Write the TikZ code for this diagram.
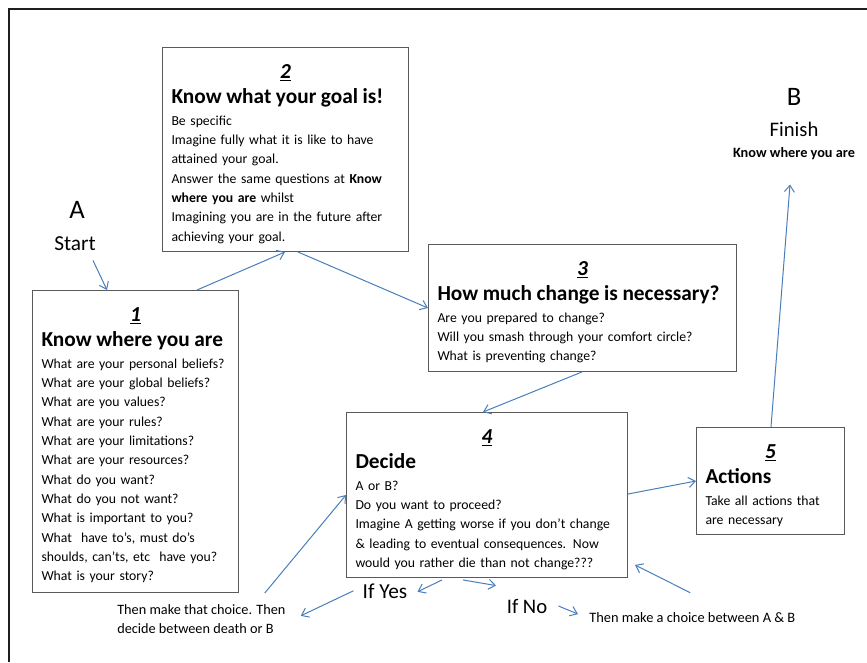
\documentclass[tikz,border=0pt]{standalone}
\usepackage{fontspec}
\setmainfont{Carlito}
\usepackage{tikz}
\usepackage{xcolor}
\usetikzlibrary{arrows.meta}

\definecolor{arrowblue}{RGB}{74,126,187}
\definecolor{boxgray}{RGB}{90,90,90}

\newcommand{\bodyfont}{\fontsize{10.3}{14.5}\selectfont}
\newcommand{\titlefont}{\fontsize{16}{18.75}\selectfont\bfseries}
\newcommand{\numfont}{\fontsize{16}{18.75}\selectfont\bfseries\itshape}
\hyphenpenalty=10000

\begin{document}
\begin{tikzpicture}[x=0.75pt,y=0.75pt,yscale=-1,xscale=1,
    box/.style={draw=boxgray, line width=0.75pt, anchor=north west, align=left,
      inner xsep=6.75pt, inner ysep=0pt, text height=23pt, font=\bodyfont},
    arr/.style={draw=arrowblue, line width=0.75pt, -{Straight Barb[length=5pt,width=7.5pt]}}]
    \useasboundingbox (0,0) rectangle (867,662);

    %Straight Lines (frame)
    \draw [line width=1.6pt, color={rgb,255:red,30;green,30;blue,30}] (9,662) -- (9,9) -- (867,9);

    %Shape: Rectangle 1
    \node [box, text width=141pt, text depth=203.5pt] (box1) at (32,290) {%
      {\centering\numfont\underline{1}\par}
      {\titlefont Know where you are\par}\vspace{2pt}
      What are your personal beliefs?\\
      What are your global beliefs?\\
      What are you values?\\
      What are your rules?\\
      What are your limitations?\\
      What are your resources?\\
      What do you want?\\
      What do you not want?\\
      What is important to you?\\
      What \ have to’s, must do’s\\
      shoulds, can’ts, etc \ have you?\\
      What is your story?};
    %Shape: Rectangle 2
    \node [box, text width=171pt, text depth=130pt] (box2) at (162,47) {%
      {\centering\numfont\underline{2}\par}
      {\titlefont Know what your goal is!\par}\vspace{2pt}
      Be specific\\
      Imagine fully what it is like to have\\
      attained your goal.\\
      Answer the same questions at \textbf{Know}\\
      \textbf{where you are} whilst\\
      Imagining you are in the future after\\
      achieving your goal.};
    %Shape: Rectangle 3
    \node [box, text width=217.5pt, text depth=72.2pt] (box3) at (428,244) {%
      {\centering\numfont\underline{3}\par}
      {\titlefont How much change is necessary?\par}\vspace{2pt}
      Are you prepared to change?\\
      Will you smash through your comfort circle?\\
      What is preventing change?};
    %Shape: Rectangle 4
    \node [box, text width=197.25pt, text depth=100.7pt] (box4) at (346,412) {%
      {\centering\numfont\underline{4}\par}
      {\titlefont Decide\par}\vspace{2pt}
      A or B?\\
      Do you want to proceed?\\
      Imagine A getting worse if you don’t change\\
      \& leading to eventual consequences. Now\\
      would you rather die than not change???};
    %Shape: Rectangle 5
    \node [box, text width=97.5pt, text depth=57.2pt] (box5) at (696,427) {%
      {\centering\numfont\underline{5}\par}
      {\titlefont Actions\par}\vspace{2pt}
      Take all actions that\\
      are necessary};

    % Text Node
    \node [anchor=base, inner sep=0.75pt, font=\fontsize{20}{24}\selectfont] (lblA) at (77,218) {A};
    % Text Node
    \node [anchor=base, inner sep=0.75pt, font=\fontsize{16}{19}\selectfont] (start) at (75,250) {Start};
    % Text Node
    \node [anchor=base, inner sep=0.75pt, font=\fontsize{20}{24}\selectfont] (lblB) at (794,105) {B};
    % Text Node
    \node [anchor=base, inner sep=0.75pt, font=\fontsize{15.5}{19}\selectfont] (finish) at (794,136) {Finish};
    % Text Node
    \node [anchor=base, inner sep=0.75pt, font=\fontsize{10.7}{12}\selectfont\bfseries] (finishsub) at (794,157) {Know where you are};
    % Text Node
    \node [anchor=base, inner sep=0.75pt, font=\fontsize{16}{18}\selectfont] (ifyes) at (385,598) {If Yes};
    % Text Node
    \node [anchor=base, inner sep=0.75pt, font=\fontsize{15.5}{18}\selectfont] (ifno) at (527,613) {If No};
    % Text Node
    \node [anchor=north west, inner sep=0.75pt, align=left, font=\fontsize{10.7}{14.3}\selectfont] (choiceyes) at (116,603) {Then make that choice. Then\\decide between death or B};
    % Text Node
    \node [anchor=base west, inner sep=0.75pt, font=\fontsize{10.8}{12}\selectfont] (choiceno) at (588,622) {Then make a choice between A \& B};

    %Straight Lines
    \draw [arr] ([shift={(18,9)}]start.south) -- ([shift={(75,0)}]box1.north west);
    \draw [arr] ([shift={(165,0)}]box1.north west) -- ([shift={(123,0)}]box2.south west);
    \draw [arr] ([shift={(136,0)}]box2.south west) -- ([shift={(0,64)}]box3.north west);
    \draw [arr] ([shift={(154,0)}]box3.south west) -- ([shift={(137,0)}]box4.north west);
    \draw [arr] ([shift={(0,82)}]box4.north east) -- ([shift={(0,54)}]box5.north west);
    \draw [arr] ([shift={(75,0)}]box5.north west) -- ([shift={(-4,24)}]finishsub.south);
    \draw [arr] ([shift={(96,2)}]box4.south west) -- ([shift={(9,1)}]ifyes.east);
    \draw [arr] ([shift={(117,2)}]box4.south west) -- ([shift={(-31,-12)}]ifno.north);
    \draw [arr] ([xshift=-6pt]ifyes.west) -- ([shift={(14,-3)}]choiceyes.east);
    \draw [arr] ([shift={(-22,-10)}]choiceyes.north east) -- ([shift={(0,83)}]box4.north west);
    \draw [arr] ([xshift=7.5pt]ifno.east) -- ([shift={(-10,-3)}]choiceno.west);
    \draw [arr] ([shift={(-2,-18)}]choiceno.north) -- ([shift={(7,-13)}]box4.south east);

\end{tikzpicture}
\end{document}
